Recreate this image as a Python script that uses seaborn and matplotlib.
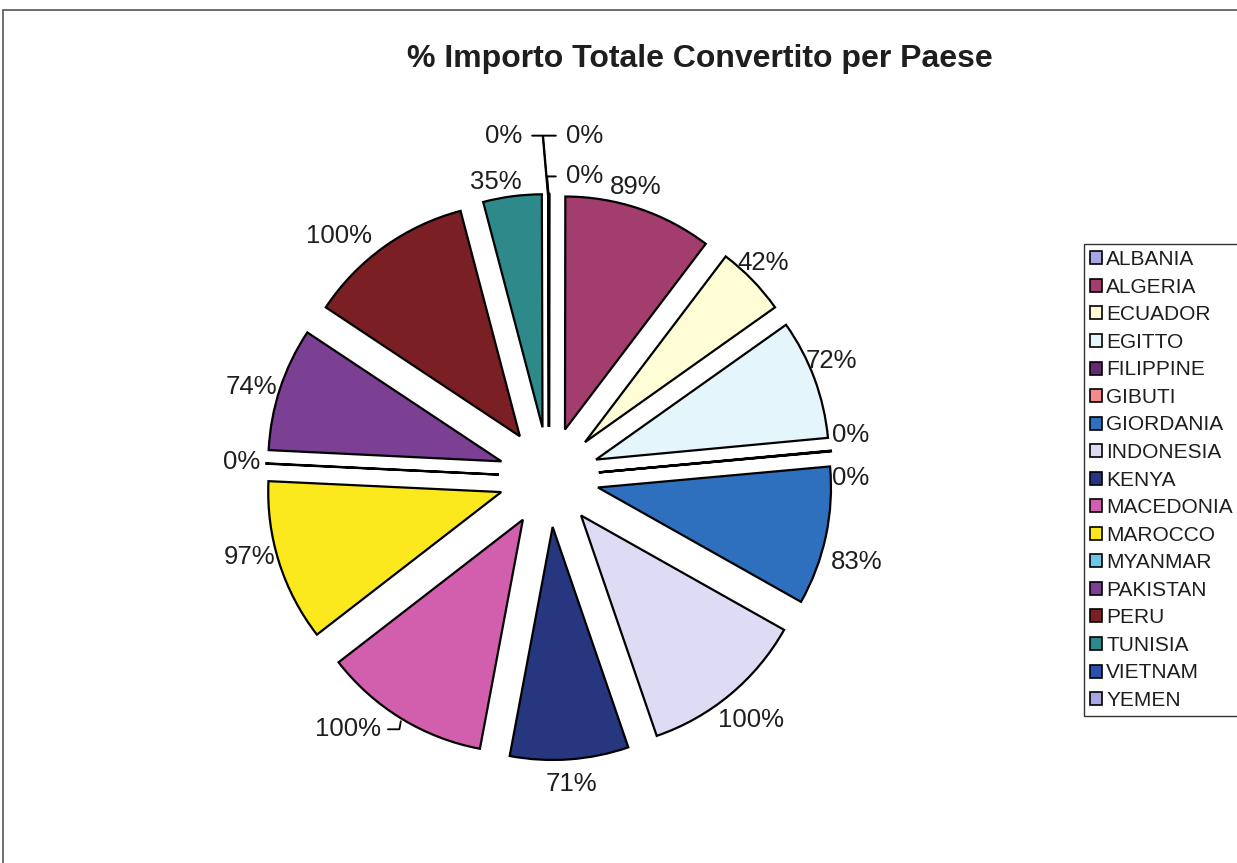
import matplotlib
matplotlib.use("Agg")
import matplotlib.pyplot as plt
from matplotlib.patches import Rectangle
import seaborn as sns
import numpy as np

countries = ["ALBANIA", "ALGERIA", "ECUADOR", "EGITTO", "FILIPPINE", "GIBUTI",
             "GIORDANIA", "INDONESIA", "KENYA", "MACEDONIA", "MAROCCO", "MYANMAR",
             "PAKISTAN", "PERU", "TUNISIA", "VIETNAM", "YEMEN"]
values = [0.2, 89, 42, 72, 0.2, 0.2, 83, 100, 71, 100, 97, 0.2, 74, 100, 35, 0.2, 0.2]
colors = ["#a6a6e4", "#a23d6d", "#fffdd6", "#e4f6fb", "#662a70", "#f48a8a",
          "#2e6fbe", "#dedcf4", "#27377f", "#d25fae", "#fbe91e", "#6ec6e6",
          "#7b3f94", "#7a1f23", "#2e898b", "#2b50ae", "#a6a6e4"]

sns.set_theme(style="white")
plt.rcParams["font.family"] = ["Liberation Sans", "DejaVu Sans"]

palette = sns.color_palette(colors)

fig = plt.figure(figsize=(12.37, 8.63), dpi=100)
fig.patch.set_facecolor("white")

W, H = 1237, 863
cx, cy, rpx = 549, 477, 233
half = 1.3 * rpx
ax = fig.add_axes([(cx - half) / W, (H - cy - half) / H, 2 * half / W, 2 * half / H])

explode = [0.215] * len(values)
labels_txt = [f"{round(v):d}%" for v in values]
LBL = 18.5
wedges, texts = ax.pie(values, explode=explode, labels=labels_txt, colors=palette,
                       startangle=90, counterclock=False, labeldistance=1.107,
                       wedgeprops=dict(edgecolor="black", linewidth=1.6),
                       textprops=dict(fontsize=LBL, color="#1e1e1e"))
ax.set_xlim(-1.3, 1.3)
ax.set_ylim(-1.3, 1.3)
ax.set_aspect("equal")
ax.axis("off")

for t in texts:
    t.set_ha("center")
    t.set_va("center")

idx = {c: i for i, c in enumerate(countries)}

# label nudges (in pie radius units) to mimic the original label placement
nudges = {"ALGERIA": (-0.05, -0.009), "ECUADOR": (-0.03, 0.0),
          "EGITTO": (-0.026, 0.039), "FILIPPINE": (-0.02, 0.06),
          "GIBUTI": (-0.02, -0.125), "GIORDANIA": (0.026, -0.086),
          "INDONESIA": (0.02, -0.026), "MAROCCO": (-0.026, 0.056),
          "PAKISTAN": (-0.02, -0.026), "PERU": (-0.133, -0.039),
          "TUNISIA": (-0.056, -0.043)}
for name, (dx, dy) in nudges.items():
    t = texts[idx[name]]
    x, y = t.get_position()
    t.set_position((x + dx, y + dy))


def arc_mid(w):
    th = np.deg2rad((w.theta1 + w.theta2) / 2)
    return w.center[0] + w.r * np.cos(th), w.center[1] + w.r * np.sin(th)


# top zero slices: labels with leader lines
top_specs = {"VIETNAM": (-0.116, 1.465, "right"),
             "YEMEN": (0.073, 1.465, "left"),
             "ALBANIA": (0.073, 1.29, "left")}
for name, (lx, ly, ha) in top_specs.items():
    i = idx[name]
    texts[i].set_text("")
    ox, oy = arc_mid(wedges[i])
    ax.annotate("0%", xy=(ox, oy - 0.03), xytext=(lx, ly), ha=ha, va="center",
                fontsize=LBL, color="#1e1e1e", annotation_clip=False,
                arrowprops=dict(arrowstyle="-", color="black", lw=1.4,
                                shrinkA=5, shrinkB=0,
                                connectionstyle="angle,angleA=0,angleB=95,rad=0"))

# MACEDONIA label with leader line
i = idx["MACEDONIA"]
x, y = texts[i].get_position()
texts[i].set_text("")
ox, oy = arc_mid(wedges[i])
ax.annotate(labels_txt[i], xy=(ox, oy), xytext=(x - 0.175, y + 0.045),
            ha="center", va="center", fontsize=LBL, color="#1e1e1e",
            annotation_clip=False,
            arrowprops=dict(arrowstyle="-", color="black", lw=1.3,
                            shrinkA=3, shrinkB=2,
                            connectionstyle="angle,angleA=0,angleB=80,rad=0"))

fig.text(700 / W, 1 - 59 / H, "% Importo Totale Convertito per Paese",
         ha="center", va="center", fontsize=23, fontweight="bold", color="#1e1e1e")

leg = fig.legend(wedges, countries, loc="upper left",
                 bbox_to_anchor=(1084 / W, 1 - 244 / H),
                 frameon=True, fancybox=False, fontsize=15,
                 handlelength=0.58, handleheight=0.58, handletextpad=0.18,
                 labelspacing=0.41, borderpad=0.3, borderaxespad=0)
leg.get_frame().set_edgecolor("black")
leg.get_frame().set_linewidth(1.0)
for h in leg.legend_handles:
    h.set_linewidth(1.2)
for t in leg.get_texts():
    t.set_color("#1e1e1e")

fig.patches.append(Rectangle((3 / W, -0.05), 1.2, 1 - 10 / H + 0.05,
                             transform=fig.transFigure, fill=False,
                             edgecolor="#555555", linewidth=1.2))

fig.savefig("out.png", dpi=100, facecolor="white")
